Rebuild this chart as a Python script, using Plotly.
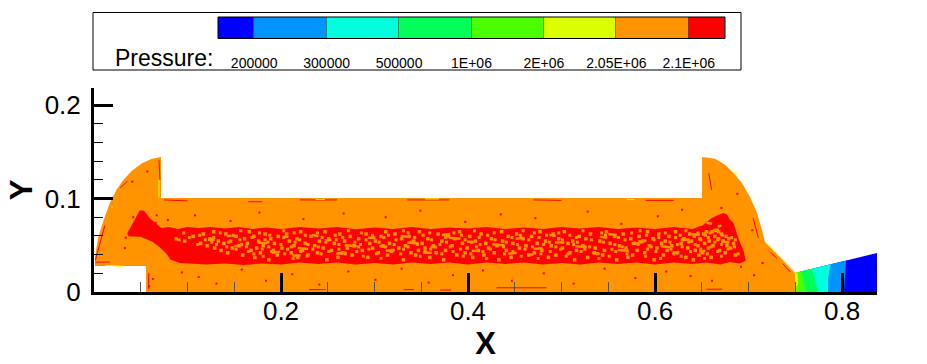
import plotly.graph_objects as go

W, H = 927, 364

# Pressure levels and colour bands
level_labels = ["200000", "300000", "500000", "1E+06", "2E+06", "2.05E+06", "2.1E+06"]
band_colors = ["#0000FF", "#0094FF", "#00FFDC", "#00FF58", "#4BFF00", "#DBFF00", "#FF9400", "#FF0000"]
band_left = [0.5, 1, 2, 3, 4, 5, 6, 7]
band_right = [1, 2, 3, 4, 5, 6, 7, 7.5]

# Domain outline in geometry coordinates
domain_x = [0.0556, 0.0556, 0.001, 0.001, 0.0043, 0.0096, 0.0171, 0.0246, 0.031, 0.0406, 0.0513, 0.062, 0.0717, 0.0717,
            0.6503, 0.6503, 0.6642, 0.6749, 0.6834, 0.693, 0.7016, 0.7091, 0.7144, 0.7176, 0.7251, 0.7497, 0.7497]
domain_y = [0, 0.0278, 0.0278, 0.0374, 0.0578, 0.0749, 0.0958, 0.1102, 0.1195, 0.1298, 0.1378, 0.1425, 0.1444, 0.1005,
            0.1005, 0.1444, 0.1425, 0.1362, 0.1278, 0.1166, 0.1016, 0.0845, 0.0663, 0.0535, 0.046, 0.0203, 0]

# Red core
core_x = [0.049, 0.0535, 0.06, 0.066, 0.072, 0.08, 0.09, 0.1, 0.112, 0.125, 0.14, 0.155, 0.17, 0.185, 0.2, 0.22, 0.24, 0.26, 0.28, 0.3, 0.32, 0.34,
          0.36, 0.38, 0.4, 0.42, 0.44, 0.46, 0.48, 0.5, 0.52, 0.54, 0.56, 0.58, 0.6, 0.62, 0.64, 0.651, 0.66, 0.668, 0.673, 0.677, 0.68, 0.684,
          0.689, 0.695, 0.697, 0.69, 0.68, 0.67, 0.655, 0.64, 0.62, 0.6, 0.58, 0.56, 0.54, 0.52, 0.5, 0.48, 0.46, 0.44, 0.42, 0.4, 0.38, 0.36,
          0.34, 0.32, 0.3, 0.28, 0.26, 0.24, 0.22, 0.2, 0.18, 0.16, 0.14, 0.12, 0.105, 0.092, 0.082, 0.077, 0.07, 0.062, 0.05, 0.037, 0.0355, 0.042]
core_y = [0.0875, 0.087, 0.0785, 0.0735, 0.0685, 0.0695, 0.0675, 0.0695, 0.0685, 0.0695, 0.068, 0.0695, 0.0675, 0.069, 0.0675, 0.0695, 0.068, 0.0695, 0.067, 0.069, 0.0675, 0.0695,
          0.0675, 0.069, 0.068, 0.0695, 0.0675, 0.069, 0.0675, 0.0695, 0.068, 0.0695, 0.0675, 0.069, 0.0675, 0.0695, 0.0675, 0.0715, 0.0785, 0.0825, 0.0845, 0.083, 0.0775, 0.0735,
          0.058, 0.043, 0.0335, 0.0305, 0.032, 0.0295, 0.0315, 0.03, 0.0315, 0.0295, 0.0315, 0.03, 0.0315, 0.0295, 0.031, 0.0295, 0.0315, 0.03, 0.0315, 0.0295, 0.0315, 0.03,
          0.0315, 0.0295, 0.031, 0.0295, 0.0315, 0.03, 0.0315, 0.0295, 0.0305, 0.029, 0.0305, 0.0295, 0.03, 0.031, 0.0345, 0.0415, 0.048, 0.054, 0.059, 0.0595, 0.0625, 0.0745]

# Expansion zone
outlet_blue_x = [0.7497, 0.8374, 0.8374, 0.7497]
outlet_blue_y = [0.0203, 0.0417, 0, 0]
outlet_blue2_x = [0.7497, 0.8043, 0.8021, 0.7497]
outlet_blue2_y = [0.0203, 0.0337, 0, 0]
outlet_cyan_x = [0.7497, 0.788, 0.785, 0.785, 0.7497]
outlet_cyan_y = [0.0203, 0.0297, 0.015, 0, 0]
outlet_green_x = [0.7497, 0.768, 0.7711, 0.7743, 0.7497]
outlet_green_y = [0.0203, 0.0248, 0.013, 0, 0]
outlet_lime_x = [0.7497, 0.757, 0.7615, 0.7497]
outlet_lime_y = [0.0203, 0.0221, 0, 0]
outlet_yellow_x = [0.7497, 0.7525, 0.753, 0.7497]
outlet_yellow_y = [0.0203, 0.021, 0.008, 0.005]

# Orange specks inside the red core, row by row
speck_row_y = [0.0645, 0.062, 0.0595, 0.057, 0.0545, 0.052, 0.0495, 0.047, 0.0445, 0.042, 0.0395, 0.037, 0.0345]
speck_row_x = [
    [0.128, 0.166, 0.221, 0.247, 0.312, 0.348, 0.391, 0.436, 0.477, 0.503, 0.548, 0.592, 0.622, 0.655, 0.661, 0.668],
    [0.117, 0.141, 0.183, 0.206, 0.263, 0.291, 0.322, 0.368, 0.414, 0.452, 0.491, 0.531, 0.566, 0.604, 0.637, 0.652, 0.671],
    [0.106, 0.152, 0.171, 0.197, 0.232, 0.274, 0.307, 0.337, 0.379, 0.402, 0.443, 0.468, 0.519, 0.557, 0.583, 0.615, 0.642, 0.664, 0.676],
    [0.088, 0.124, 0.161, 0.189, 0.217, 0.251, 0.283, 0.329, 0.357, 0.386, 0.425, 0.459, 0.497, 0.526, 0.574, 0.598, 0.631, 0.648, 0.668, 0.679],
    [0.097, 0.133, 0.146, 0.176, 0.209, 0.241, 0.268, 0.301, 0.342, 0.372, 0.408, 0.437, 0.483, 0.512, 0.541, 0.587, 0.611, 0.639, 0.658, 0.673],
    [0.114, 0.139, 0.164, 0.193, 0.226, 0.257, 0.295, 0.316, 0.351, 0.394, 0.419, 0.448, 0.474, 0.507, 0.552, 0.578, 0.607, 0.628, 0.653, 0.684],
    [0.121, 0.155, 0.181, 0.214, 0.236, 0.278, 0.309, 0.333, 0.363, 0.383, 0.431, 0.462, 0.489, 0.523, 0.562, 0.594, 0.618, 0.646, 0.662, 0.677],
    [0.129, 0.148, 0.174, 0.201, 0.245, 0.271, 0.298, 0.326, 0.354, 0.399, 0.422, 0.455, 0.501, 0.536, 0.569, 0.602, 0.635, 0.657, 0.681],
    [0.136, 0.168, 0.192, 0.223, 0.254, 0.287, 0.319, 0.347, 0.376, 0.411, 0.441, 0.479, 0.516, 0.546, 0.581, 0.613, 0.643, 0.669],
    [0.143, 0.178, 0.211, 0.239, 0.266, 0.304, 0.339, 0.366, 0.397, 0.428, 0.471, 0.509, 0.535, 0.589, 0.624, 0.651, 0.675],
    [0.159, 0.196, 0.229, 0.276, 0.314, 0.344, 0.388, 0.417, 0.465, 0.494, 0.544, 0.576, 0.609, 0.647, 0.686],
    [0.172, 0.218, 0.261, 0.293, 0.359, 0.405, 0.446, 0.486, 0.528, 0.571, 0.633, 0.66],
    [0.187, 0.249, 0.331, 0.374, 0.433, 0.514, 0.559, 0.599, 0.641],
]
# Second, finer set of specks between those rows
fine_row_y = [0.0655, 0.0632, 0.0607, 0.0583, 0.0558, 0.0533, 0.0508, 0.0483, 0.0458, 0.0433, 0.0408, 0.0383, 0.0358]
fine_row_x = [
    [0.157, 0.203, 0.272, 0.331, 0.407, 0.459, 0.523, 0.584, 0.633, 0.665],
    [0.096, 0.135, 0.177, 0.214, 0.239, 0.286, 0.336, 0.359, 0.385, 0.428, 0.471, 0.497, 0.543, 0.575, 0.611, 0.646, 0.659],
    [0.113, 0.149, 0.188, 0.226, 0.258, 0.298, 0.315, 0.352, 0.393, 0.421, 0.456, 0.484, 0.509, 0.547, 0.591, 0.627, 0.654, 0.672],
    [0.102, 0.128, 0.169, 0.203, 0.244, 0.266, 0.31, 0.343, 0.376, 0.412, 0.447, 0.476, 0.516, 0.561, 0.604, 0.622, 0.657, 0.682],
    [0.091, 0.119, 0.156, 0.183, 0.22, 0.259, 0.291, 0.323, 0.361, 0.397, 0.429, 0.465, 0.501, 0.532, 0.568, 0.599, 0.629, 0.649, 0.667, 0.686],
    [0.126, 0.144, 0.186, 0.215, 0.248, 0.279, 0.305, 0.339, 0.377, 0.404, 0.441, 0.487, 0.517, 0.545, 0.585, 0.616, 0.636, 0.664, 0.678],
    [0.111, 0.131, 0.158, 0.2, 0.229, 0.262, 0.285, 0.321, 0.346, 0.37, 0.413, 0.453, 0.481, 0.513, 0.557, 0.582, 0.624, 0.643, 0.671],
    [0.142, 0.163, 0.187, 0.211, 0.24, 0.283, 0.312, 0.336, 0.381, 0.409, 0.438, 0.469, 0.494, 0.53, 0.565, 0.596, 0.629, 0.66, 0.685],
    [0.152, 0.18, 0.207, 0.234, 0.262, 0.294, 0.331, 0.36, 0.392, 0.424, 0.461, 0.499, 0.525, 0.554, 0.592, 0.617, 0.649, 0.678],
    [0.165, 0.19, 0.221, 0.251, 0.281, 0.318, 0.354, 0.384, 0.416, 0.448, 0.488, 0.521, 0.558, 0.601, 0.638, 0.667],
    [0.171, 0.204, 0.243, 0.269, 0.302, 0.328, 0.372, 0.403, 0.439, 0.478, 0.507, 0.538, 0.57, 0.62, 0.656, 0.689],
    [0.181, 0.228, 0.288, 0.349, 0.395, 0.457, 0.505, 0.551, 0.59, 0.628, 0.671],
    [0.213, 0.307, 0.42, 0.475, 0.54, 0.606, 0.653],
]
# Short orange clumps in the core (None separates clumps)
clump_x = [0.122, 0.129, None, 0.15, 0.158, None, 0.175, 0.185, None, 0.202, 0.208, None, 0.218, 0.229, None, 0.247, 0.254, None, 0.268, 0.281, None, 0.293, 0.301, None,
           0.312, 0.322, None, 0.335, 0.347, None, 0.36, 0.367, None, 0.38, 0.392, None, 0.404, 0.412, None, 0.426, 0.439, None, 0.451, 0.459, None, 0.47, 0.48, None,
           0.493, 0.503, None, 0.515, 0.527, None, 0.541, 0.549, None, 0.56, 0.572, None, 0.582, 0.591, None, 0.606, 0.616, None, 0.628, 0.637, None, 0.647, 0.654, None,
           0.662, 0.668, None, 0.671, 0.678, None, 0.142, 0.147, None, 0.19, 0.199, None, 0.233, 0.24, None, 0.259, 0.27, None, 0.305, 0.311, None, 0.328, 0.337, None,
           0.352, 0.361, None, 0.399, 0.406, None, 0.443, 0.452, None, 0.487, 0.494, None, 0.533, 0.541, None, 0.575, 0.583, None, 0.619, 0.626, None, 0.639, 0.648, None,
           0.655, 0.661, None, 0.667, 0.671, None, 0.212, 0.221, None, 0.372, 0.381, None, 0.463, 0.47, None, 0.55, 0.559, None]
clump_y = [0.056, 0.056, None, 0.049, 0.05, None, 0.053, 0.052, None, 0.059, 0.059, None, 0.047, 0.046, None, 0.055, 0.056, None, 0.05, 0.049, None, 0.058, 0.058, None,
           0.044, 0.045, None, 0.053, 0.052, None, 0.048, 0.048, None, 0.058, 0.057, None, 0.044, 0.044, None, 0.051, 0.05, None, 0.057, 0.058, None, 0.046, 0.047, None,
           0.053, 0.053, None, 0.049, 0.048, None, 0.059, 0.058, None, 0.045, 0.044, None, 0.054, 0.055, None, 0.049, 0.048, None, 0.056, 0.056, None, 0.043, 0.044, None,
           0.066, 0.067, None, 0.054, 0.053, None, 0.06, 0.06, None, 0.042, 0.043, None, 0.061, 0.06, None, 0.041, 0.042, None, 0.049, 0.049, None, 0.06, 0.059, None,
           0.042, 0.042, None, 0.054, 0.053, None, 0.041, 0.042, None, 0.061, 0.06, None, 0.042, 0.041, None, 0.052, 0.052, None, 0.042, 0.043, None, 0.062, 0.061, None,
           0.074, 0.073, None, 0.07, 0.071, None, 0.039, 0.039, None, 0.061, 0.062, None, 0.04, 0.04, None, 0.062, 0.061, None]

# Red specks outside the core
red_x = [0.034, 0.041, 0.057, 0.067, 0.079, 0.094, 0.112, 0.131, 0.158, 0.184, 0.212, 0.241, 0.272, 0.301, 0.329, 0.358,
         0.384, 0.416, 0.447, 0.481, 0.513, 0.546, 0.579, 0.612, 0.638, 0.661, 0.692, 0.706, 0.715, 0.066, 0.108, 0.146, 0.177,
         0.224, 0.267, 0.312, 0.349, 0.397, 0.435, 0.472, 0.528, 0.564, 0.603, 0.629, 0.671, 0.704, 0.688, 0.063, 0.059, 0.042, 0.033]
red_y = [0.058, 0.118, 0.129, 0.082, 0.077, 0.021, 0.016, 0.009, 0.024, 0.012, 0.019, 0.008, 0.022, 0.013, 0.025, 0.01,
         0.018, 0.023, 0.012, 0.02, 0.009, 0.025, 0.015, 0.022, 0.017, 0.012, 0.027, 0.018, 0.031, 0.074, 0.082, 0.076, 0.085,
         0.078, 0.084, 0.08, 0.087, 0.075, 0.083, 0.079, 0.086, 0.073, 0.081, 0.088, 0.09, 0.066, 0.105, 0.014, 0.006, 0.08, 0.047]

# Thin streaks along the walls (None separates segments)
streak_red_x = [0.0015, 0.0115, None, 0.028, 0.036, None, 0.0015, 0.017, None, 0.0695, 0.0705, None, 0.075, 0.1, None, 0.165, 0.18, None,
                0.22, 0.26, None, 0.335, 0.38, None, 0.47, 0.5, None, 0.59, 0.62, None, 0.6575, 0.6605, None, 0.705, 0.7105, None,
                0.7235, 0.7305, None, 0.7365, 0.7445, None, 0.655, 0.672, None, 0.23, 0.248, None, 0.37, 0.382, None, 0.331, 0.342, None,
                0.4305, 0.484, None, 0.0585, 0.0585]
streak_red_y = [0.034, 0.071, None, 0.1115, 0.1185, None, 0.032, 0.032, None, 0.141, 0.12, None, 0.0985, 0.0975, None, 0.0965, 0.0965, None,
                0.0985, 0.0985, None, 0.0985, 0.0985, None, 0.0985, 0.098, None, 0.098, 0.098, None, 0.127, 0.109, None, 0.079, 0.058, None,
                0.0425, 0.036, None, 0.0305, 0.0215, None, 0.003, 0.003, None, 0.0025, 0.0025, None, 0.002, 0.002, None, 0.0025, 0.0025, None,
                0.0045, 0.0045, None, 0.02, 0.003]
streak_green_x = [0.019, 0.0195, None, 0.0695, 0.0695, None, 0.012, 0.031, None, 0.237, 0.247, None, 0.354, 0.369, None, 0.57, 0.578, None, 0.6845, 0.6875, None, 0.7185, 0.7497]
streak_green_y = [0.092, 0.09, None, 0.12, 0.101, None, 0.0285, 0.0275, None, 0.099, 0.099, None, 0.0995, 0.0995, None, 0.099, 0.099, None, 0.128, 0.1255, None, 0.053, 0.0215]

fill = lambda x, y, c: go.Scatter(x=x, y=y, mode="lines", fill="toself", fillcolor=c, line=dict(width=0, color=c), hoverinfo="skip", showlegend=False)

fig = go.Figure()
fig.add_trace(fill(domain_x, domain_y, band_colors[6]))
fig.add_trace(fill(core_x, core_y, band_colors[7]))
for xs, ys, c in [(outlet_blue_x, outlet_blue_y, band_colors[0]), (outlet_blue2_x, outlet_blue2_y, band_colors[1]),
                  (outlet_cyan_x, outlet_cyan_y, band_colors[2]), (outlet_green_x, outlet_green_y, band_colors[3]),
                  (outlet_lime_x, outlet_lime_y, band_colors[4]), (outlet_yellow_x, outlet_yellow_y, band_colors[5])]:
    fig.add_trace(fill(xs, ys, c))

for row_y, row_x, sz in [(speck_row_y, speck_row_x, 3.5), (fine_row_y, fine_row_x, 3)]:
    sx = [x for row in row_x for x in row]
    sy = [y for y, row in zip(row_y, row_x) for _ in row]
    fig.add_trace(go.Scatter(x=sx, y=sy, mode="markers", marker=dict(symbol="square", size=sz, color=band_colors[6], line=dict(width=0)), hoverinfo="skip", showlegend=False))
fig.add_trace(go.Scatter(x=clump_x, y=clump_y, mode="lines", line=dict(color=band_colors[6], width=2.5), hoverinfo="skip", showlegend=False))
fig.add_trace(go.Scatter(x=red_x, y=red_y, mode="markers", marker=dict(symbol="square", size=2, color=band_colors[7], line=dict(width=0)), hoverinfo="skip", showlegend=False))
fig.add_trace(go.Scatter(x=streak_red_x, y=streak_red_y, mode="lines", line=dict(color=band_colors[7], width=1), hoverinfo="skip", showlegend=False))
fig.add_trace(go.Scatter(x=streak_green_x, y=streak_green_y, mode="lines", line=dict(color=band_colors[5], width=1), hoverinfo="skip", showlegend=False))

# Legend bar drawn on its own axes
fig.add_trace(go.Bar(x=[(a + b) / 2 for a, b in zip(band_left, band_right)], y=[1] * 8,
                     width=[b - a for a, b in zip(band_left, band_right)], marker=dict(color=band_colors, line=dict(color="rgba(0,0,0,0.3)", width=1)),
                     xaxis="x2", yaxis="y2", hoverinfo="skip", showlegend=False))

FONT = "Liberation Sans, Arial, sans-serif"
fig.update_layout(
    width=W, height=H, autosize=False, margin=dict(l=0, r=0, t=0, b=0),
    paper_bgcolor="white", plot_bgcolor="white", bargap=0,
    xaxis=dict(domain=[94 / W, 877 / W], range=[0, 0.8374], automargin=False, showgrid=False, zeroline=False, showline=True, linecolor="black", linewidth=3,
               anchor="y", tickvals=[0.2, 0.4, 0.6, 0.8], ticktext=["0.2", "0.4", "0.6", "0.8"], ticks="inside", ticklen=19, tickwidth=3, tickcolor="black",
               tickfont=dict(family=FONT, size=26, color="black"), ticklabelstandoff=-6,
               minor=dict(tickvals=[0.05, 0.1, 0.15, 0.25, 0.3, 0.35, 0.45, 0.5, 0.55, 0.65, 0.7, 0.75], ticks="inside", ticklen=10, tickwidth=1, tickcolor="#555555"),
               title=dict(text="<b>X</b>", font=dict(family=FONT, size=31, color="black"), standoff=4)),
    yaxis=dict(domain=[(H - 292) / H, (H - 88) / H], range=[0, 0.2182], automargin=False, showgrid=False, zeroline=False, showline=True, linecolor="black", linewidth=3,
               anchor="x", tickvals=[0, 0.1, 0.2], ticktext=["0", "0.1", "0.2"], ticks="inside", ticklen=19, tickwidth=3, tickcolor="black",
               tickfont=dict(family=FONT, size=26, color="black"), ticklabelstandoff=5,
               minor=dict(tickvals=[0.02, 0.04, 0.06, 0.08, 0.12, 0.14, 0.16, 0.18, 0.2], ticks="inside", ticklen=9, tickwidth=1, tickcolor="black"),
               title=dict(text="<b>Y</b>", font=dict(family=FONT, size=31, color="black"), standoff=3)),
    xaxis2=dict(domain=[218 / W, 725 / W], range=[0.5, 7.5], automargin=False, anchor="y2", showgrid=False, zeroline=False, tickvals=list(range(1, 8)), ticktext=level_labels,
                ticks="outside", ticklen=12, tickcolor="rgba(0,0,0,0)", tickfont=dict(family=FONT, size=14, color="black")),
    yaxis2=dict(domain=[(H - 38.5) / H, (H - 17) / H], range=[0, 1], automargin=False, anchor="x2", showgrid=False, zeroline=False, showticklabels=False, ticks=""),
    shapes=[dict(type="rect", xref="paper", yref="paper", x0=93 / W, x1=741 / W, y0=(H - 70) / H, y1=(H - 12.5) / H, line=dict(color="black", width=1), fillcolor="rgba(0,0,0,0)"),
            dict(type="rect", xref="paper", yref="paper", x0=218 / W, x1=725 / W, y0=(H - 38.5) / H, y1=(H - 17) / H, line=dict(color="black", width=1), fillcolor="rgba(0,0,0,0)")],
    annotations=[dict(text="Pressure:", xref="paper", yref="paper", x=113 / W, y=(H - 58) / H, xanchor="left", yanchor="middle", showarrow=False,
                      font=dict(family=FONT, size=23, color="black"))],
)
fig.write_html("out.html", config=dict(displayModeBar=False), post_script="document.body.style.margin='0';document.documentElement.style.overflow='hidden';")
